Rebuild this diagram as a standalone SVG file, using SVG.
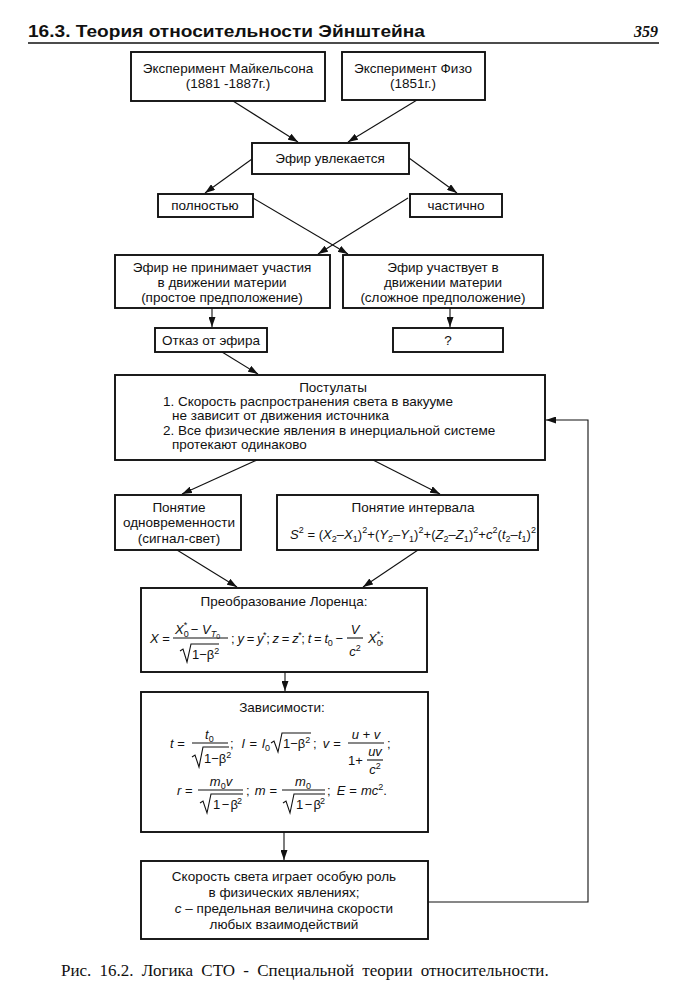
<svg xmlns="http://www.w3.org/2000/svg" width="683" height="1000" viewBox="0 0 683 1000">
<style>
  .box{fill:#fff;stroke:#111;stroke-width:1.9}
  .t{font-family:"Liberation Sans",Arial,sans-serif;font-size:13.5px;fill:#111;text-anchor:middle}
  .tl{font-family:"Liberation Sans",Arial,sans-serif;font-size:13.5px;fill:#111}
  .f{font-family:"Liberation Sans",Arial,sans-serif;font-size:13px;fill:#111}
  .fc{font-family:"Liberation Sans",Arial,sans-serif;font-size:13px;fill:#111;text-anchor:middle}
  .i{font-style:italic}
  .sup{font-size:9px}
  .sub{font-size:9px}
  .ss{font-size:7px}
  .conn line,.conn polyline{stroke:#111;stroke-width:1.1;fill:none}
  .bar{stroke:#111;stroke-width:1.1}
  .rad{stroke:#111;stroke-width:1.1;fill:none}
</style>
<defs>
  <marker id="ar" viewBox="0 0 10 7" refX="10" refY="3.5" markerWidth="10" markerHeight="7" markerUnits="userSpaceOnUse" orient="auto">
    <path d="M0,0 L10,3.5 L0,7 z" fill="#111"/>
  </marker>
</defs>
<rect width="683" height="1000" fill="#fff"/>

<g id="header">
  <text x="28" y="37" font-family="Liberation Sans,Arial,sans-serif" font-size="17" font-weight="bold" fill="#111" textLength="397" lengthAdjust="spacingAndGlyphs">16.3. Теория относительности Эйнштейна</text>
  <text x="658" y="37" font-family="Liberation Serif,serif" font-size="16" font-weight="bold" font-style="italic" fill="#111" text-anchor="end">359</text>
  <line x1="28" y1="43" x2="659" y2="43" stroke="#111" stroke-width="1.5"/>
</g>

<g class="conn">
  <line x1="233" y1="101" x2="298" y2="142" marker-end="url(#ar)"/>
  <line x1="417" y1="100" x2="348" y2="142" marker-end="url(#ar)"/>
  <line x1="252" y1="159" x2="205" y2="193" marker-end="url(#ar)"/>
  <line x1="409" y1="158" x2="457" y2="193" marker-end="url(#ar)"/>
  <line x1="253" y1="198" x2="348" y2="254" marker-end="url(#ar)"/>
  <line x1="408" y1="198" x2="318" y2="254" marker-end="url(#ar)"/>
  <line x1="212" y1="308" x2="212" y2="327" marker-end="url(#ar)"/>
  <line x1="450" y1="308" x2="450" y2="327" marker-end="url(#ar)"/>
  <line x1="222" y1="352" x2="258" y2="374" marker-end="url(#ar)"/>
  <line x1="257" y1="460" x2="182" y2="494" marker-end="url(#ar)"/>
  <line x1="373" y1="460" x2="440" y2="494" marker-end="url(#ar)"/>
  <line x1="177" y1="550" x2="237" y2="587" marker-end="url(#ar)"/>
  <line x1="418" y1="550" x2="363" y2="587" marker-end="url(#ar)"/>
  <line x1="285" y1="672" x2="285" y2="691" marker-end="url(#ar)"/>
  <line x1="284" y1="832" x2="284" y2="860" marker-end="url(#ar)"/>
  <polyline points="428,902 588,902 588,420 546,420" marker-end="url(#ar)"/>
</g>

<g id="michelson">
  <rect class="box" x="131" y="52" width="194" height="49"/>
  <text class="t" x="228" y="73">Эксперимент Майкельсона</text>
  <text class="t" x="228" y="88">(1881 -1887г.)</text>
</g>
<g id="fizeau">
  <rect class="box" x="342" y="52" width="143" height="48"/>
  <text class="t" x="413" y="73">Эксперимент Физо</text>
  <text class="t" x="413" y="88">(1851г.)</text>
</g>
<g id="ether-drag">
  <rect class="box" x="252" y="143" width="157" height="31"/>
  <text class="t" x="330" y="163">Эфир увлекается</text>
</g>
<g id="fully">
  <rect class="box" x="158" y="194" width="95" height="23"/>
  <text class="t" x="205" y="210">полностью</text>
</g>
<g id="partially">
  <rect class="box" x="410" y="194" width="92" height="23"/>
  <text class="t" x="456" y="210">частично</text>
</g>
<g id="no-part">
  <rect class="box" x="115" y="255" width="215" height="53"/>
  <text class="t" x="222" y="272">Эфир не принимает участия</text>
  <text class="t" x="222" y="287">в движении материи</text>
  <text class="t" x="222" y="302">(простое предположение)</text>
</g>
<g id="part">
  <rect class="box" x="343" y="255" width="200" height="53"/>
  <text class="t" x="443" y="272">Эфир участвует в</text>
  <text class="t" x="443" y="287">движении материи</text>
  <text class="t" x="443" y="302">(сложное предположение)</text>
</g>
<g id="reject">
  <rect class="box" x="155" y="328" width="112" height="24"/>
  <text class="t" x="211" y="345">Отказ от эфира</text>
</g>
<g id="question">
  <rect class="box" x="393" y="328" width="110" height="24"/>
  <text class="t" x="448" y="345">?</text>
</g>
<g id="postulates">
  <rect class="box" x="115" y="375" width="430" height="85"/>
  <text class="t" x="333" y="392">Постулаты</text>
  <text class="tl" x="163" y="406">1. Скорость распространения света в вакууме</text>
  <text class="tl" x="172" y="420">не зависит от движения источника</text>
  <text class="tl" x="163" y="435">2. Все физические явления в инерциальной системе</text>
  <text class="tl" x="172" y="449">протекают одинаково</text>
</g>
<g id="simultaneity">
  <rect class="box" x="115" y="495" width="126" height="55"/>
  <text class="t" x="179" y="512" font-size="13">Понятие</text>
  <text class="t" x="179" y="527" font-size="13">одновременности</text>
  <text class="t" x="179" y="543" font-size="13">(сигнал-свет)</text>
</g>
<g id="interval">
  <rect class="box" x="277" y="495" width="261" height="55"/>
  <text class="t" x="413" y="512">Понятие интервала</text>
  <text class="f" x="290" y="539" font-size="15" textLength="246" lengthAdjust="spacing"><tspan class="i">S</tspan><tspan class="sup" dy="-6">2</tspan><tspan dy="6"> = (</tspan><tspan class="i">X</tspan><tspan class="sub" dy="3">2</tspan><tspan dy="-3">–</tspan><tspan class="i">X</tspan><tspan class="sub" dy="3">1</tspan><tspan dy="-3">)</tspan><tspan class="sup" dy="-6">2</tspan><tspan dy="6">+(</tspan><tspan class="i">Y</tspan><tspan class="sub" dy="3">2</tspan><tspan dy="-3">–</tspan><tspan class="i">Y</tspan><tspan class="sub" dy="3">1</tspan><tspan dy="-3">)</tspan><tspan class="sup" dy="-6">2</tspan><tspan dy="6">+(</tspan><tspan class="i">Z</tspan><tspan class="sub" dy="3">2</tspan><tspan dy="-3">–</tspan><tspan class="i">Z</tspan><tspan class="sub" dy="3">1</tspan><tspan dy="-3">)</tspan><tspan class="sup" dy="-6">2</tspan><tspan dy="6">+</tspan><tspan class="i">c</tspan><tspan class="sup" dy="-6">2</tspan><tspan dy="6">(</tspan><tspan class="i">t</tspan><tspan class="sub" dy="3">2</tspan><tspan dy="-3">–</tspan><tspan class="i">t</tspan><tspan class="sub" dy="3">1</tspan><tspan dy="-3">)</tspan><tspan class="sup" dy="-6">2</tspan></text>
</g>
<g id="lorentz">
  <rect class="box" x="141" y="588" width="286" height="84"/>
  <text class="t" x="284" y="606">Преобразование Лоренца:</text>
  <text class="f" x="150" y="643"><tspan class="i">X</tspan> =</text>
  <text class="f" x="175" y="634"><tspan class="i">X</tspan><tspan class="sub" dy="3">0</tspan><tspan class="sup" dx="-5" dy="-9">*</tspan><tspan dy="6"> − </tspan><tspan class="i">V</tspan><tspan class="sub i" dy="3">T</tspan><tspan class="ss" dy="2">0</tspan></text>
  <line class="bar" x1="173" y1="638" x2="228" y2="638"/>
  <path class="rad" d="M180,651 L183,649 L187,662 L191,644 L219,644"/>
  <text class="f" x="192" y="659">1−β<tspan class="sup" dy="-5">2</tspan></text>
  <text class="f" x="231" y="643" font-size="12" textLength="112" lengthAdjust="spacing">; <tspan class="i">y</tspan> = <tspan class="i">y</tspan><tspan class="sup" dy="-5">*</tspan><tspan dy="5">; </tspan><tspan class="i">z</tspan> = <tspan class="i">z</tspan><tspan class="sup" dy="-5">*</tspan><tspan dy="5">; </tspan><tspan class="i">t</tspan> = <tspan class="i">t</tspan><tspan class="sub" dy="3">0</tspan><tspan dy="-3"> −</tspan></text>
  <text class="fc i" x="355" y="634">V</text>
  <line class="bar" x1="347" y1="638" x2="363" y2="638"/>
  <text class="fc" x="355" y="656"><tspan class="i">c</tspan><tspan class="sup" dy="-5">2</tspan></text>
  <text class="f" x="368" y="643"><tspan class="i">X</tspan><tspan class="sub" dy="3">0</tspan><tspan class="sup" dx="-5" dy="-9">*</tspan><tspan dy="6">;</tspan></text>
</g>
<g id="relations">
  <rect class="box" x="141" y="692" width="287" height="140"/>
  <text class="t" x="282" y="712">Зависимости:</text>
  <text class="f" x="170" y="748"><tspan class="i">t</tspan> =</text>
  <text class="f" x="205" y="739"><tspan class="i">t</tspan><tspan class="sub" dy="3">0</tspan></text>
  <line class="bar" x1="192" y1="743" x2="228" y2="743"/>
  <path class="rad" d="M192,757 L195,755 L199,767 L203,747 L229,747"/>
  <text class="f" x="204" y="763">1−β<tspan class="sup" dy="-5">2</tspan></text>
  <text class="f" x="230" y="748">;<tspan dx="8" class="i">l</tspan><tspan dx="5">=</tspan><tspan dx="5" class="i">l</tspan><tspan class="sub" dy="3">0</tspan></text>
  <path class="rad" d="M271,743 L274,741 L278,752 L282,733 L311,733"/>
  <text class="f" x="283" y="748">1−β<tspan class="sup" dy="-5">2</tspan></text>
  <text class="f" x="313" y="748">;<tspan dx="6" class="i">v</tspan><tspan dx="4">=</tspan></text>
  <text class="fc i" x="366" y="739">u + v</text>
  <line class="bar" x1="348" y1="743" x2="384" y2="743"/>
  <text class="f" x="348" y="765">1+</text>
  <text class="fc i" x="375" y="756" font-size="12">uv</text>
  <line class="bar" x1="367" y1="760" x2="383" y2="760"/>
  <text class="fc" x="375" y="774"><tspan class="i">c</tspan><tspan class="sup" dy="-5">2</tspan></text>
  <text class="f" x="387" y="748">;</text>
  <text class="f" x="177" y="795"><tspan class="i">r</tspan> =</text>
  <text class="fc" x="221" y="786"><tspan class="i">m</tspan><tspan class="sub" dy="3">0</tspan><tspan class="i" dy="-3">v</tspan></text>
  <line class="bar" x1="198" y1="790" x2="243" y2="790"/>
  <path class="rad" d="M200,803 L203,801 L207,813 L211,794 L243,794"/>
  <text class="f" x="213" y="809" textLength="29" lengthAdjust="spacing">1 − β<tspan class="sup" dy="-5">2</tspan></text>
  <text class="f" x="246" y="795">;<tspan dx="5" class="i">m</tspan><tspan dx="4">=</tspan></text>
  <text class="fc" x="303" y="786"><tspan class="i">m</tspan><tspan class="sub" dy="3">0</tspan></text>
  <line class="bar" x1="282" y1="790" x2="325" y2="790"/>
  <path class="rad" d="M283,803 L286,801 L290,813 L294,794 L325,794"/>
  <text class="f" x="296" y="809" textLength="29" lengthAdjust="spacing">1 − β<tspan class="sup" dy="-5">2</tspan></text>
  <text class="f" x="327" y="795">;<tspan dx="6" class="i">E</tspan><tspan dx="4">=</tspan><tspan dx="4" class="i">mc</tspan><tspan class="sup" dy="-5">2</tspan><tspan dy="5">.</tspan></text>
</g>
<g id="light-role">
  <rect class="box" x="141" y="861" width="287" height="78"/>
  <text class="t" x="284" y="881">Скорость света играет особую роль</text>
  <text class="t" x="284" y="897">в физических явлениях;</text>
  <text class="t" x="284" y="913"><tspan class="i">c</tspan> – предельная величина скорости</text>
  <text class="t" x="284" y="929">любых взаимодействий</text>
</g>

<g id="caption">
  <text x="61" y="976" font-family="Liberation Serif,serif" font-size="17" word-spacing="4" fill="#111">Рис. 16.2. Логика СТО - Специальной теории относительности.</text>
</g>
</svg>
